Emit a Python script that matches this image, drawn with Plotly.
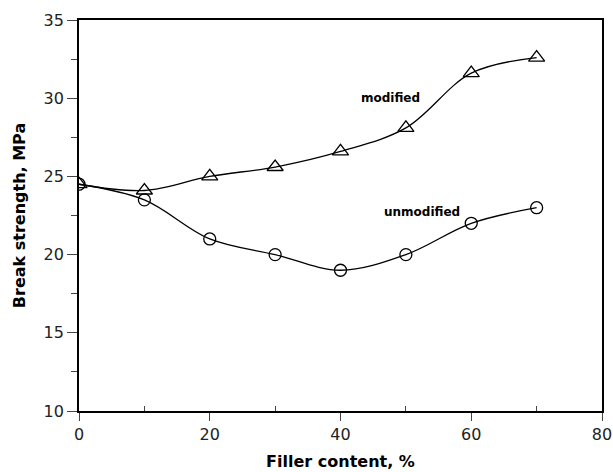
import plotly.graph_objects as go

filler = [0, 10, 20, 30, 40, 50, 60, 70]
modified = [24.5, 24.1, 25.0, 25.6, 26.6, 28.1, 31.6, 32.6]
unmodified = [24.5, 23.5, 21.0, 20.0, 19.0, 20.0, 22.0, 23.0]

FONT = "DejaVu Sans, Arial"

fig = go.Figure()
fig.add_trace(go.Scatter(
    x=filler, y=modified, mode="lines+markers", line=dict(color="black", width=1.3, shape="spline", smoothing=1.0),
    marker=dict(symbol="triangle-up-open", size=14, color="black", line=dict(width=1.3)), showlegend=False))
fig.add_trace(go.Scatter(
    x=filler, y=unmodified, mode="lines+markers", line=dict(color="black", width=1.3, shape="spline", smoothing=1.0),
    marker=dict(symbol="circle-open", size=12, color="black", line=dict(width=1.3)), showlegend=False))

fig.add_annotation(x=47.6, y=30.0, text="<b>modified</b>", showarrow=False, font=dict(size=12, color="black", family=FONT))
fig.add_annotation(x=52.4, y=22.7, text="<b>unmodified</b>", showarrow=False, font=dict(size=12, color="black", family=FONT))

fig.update_layout(
    width=613, height=472, margin=dict(l=79, r=11, t=20, b=61),
    plot_bgcolor="white", paper_bgcolor="white",
    font=dict(family=FONT, color="black"),
)
fig.update_xaxes(range=[0, 80], tickvals=[0, 20, 40, 60, 80], ticks="outside", ticklen=8, tickwidth=1.3,
                 minor=dict(tickvals=[10, 30, 50, 70], ticks="inside", ticklen=5, tickwidth=1.3),
                 showline=True, linecolor="black", linewidth=1.8, mirror=True, showgrid=False, zeroline=False,
                 automargin=False,
                 tickfont=dict(size=16, color="#222"), title=dict(text="<b>Filler content, %</b>", font=dict(size=16), standoff=13))
fig.update_yaxes(range=[10, 35], tickvals=[10, 15, 20, 25, 30, 35], ticks="outside", ticklen=10, tickwidth=1.3,
                 minor=dict(tickvals=[12.5, 17.5, 22.5, 27.5, 32.5], ticks="outside", ticklen=6, tickwidth=1.3),
                 showline=True, linecolor="black", linewidth=1.8, mirror=True, showgrid=False, zeroline=False,
                 automargin=False,
                 tickfont=dict(size=16, color="#222"), title=dict(text="<b>Break strength, MPa</b>", font=dict(size=16), standoff=14))

fig.write_html("out.html", config={"displayModeBar": False}, post_script="document.body.style.margin='0';")
